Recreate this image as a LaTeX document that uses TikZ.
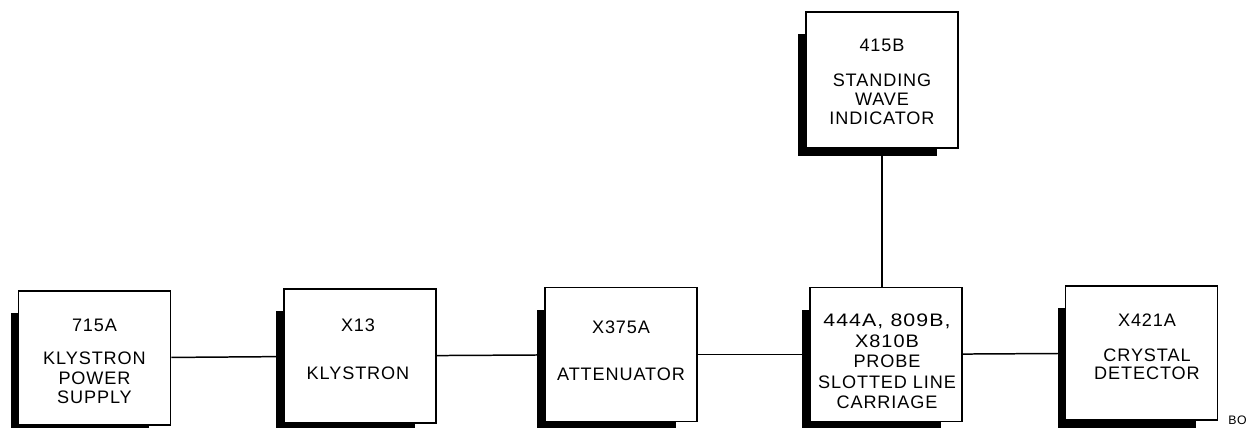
\documentclass[tikz,border=0pt]{standalone}
\usepackage{graphicx}
\usepackage{fontspec}
\setmainfont{Liberation Sans}[LetterSpace=5]
\usetikzlibrary{backgrounds,calc}
\newcommand\dropshade[1]{%
  \fill ($(#1.north west)+(-7,23)$) rectangle ($(#1.south east)+(-22,7)$);}
\begin{document}
\begin{tikzpicture}[x=0.02cm,y=-0.02cm,
  box/.style={draw,line width=1pt,fill=white,minimum width=3.04cm,minimum height=2.68cm,inner sep=0},
  lbl/.style={align=center,font=\fontsize{10.3}{11.3}\selectfont,inner sep=0,anchor=north},
  wire/.style={line width=0.85pt}]
\useasboundingbox (0,0) rectangle (1247,427);
\clip (0,0) rectangle (1247,427);

\node[box] (ps) at (94.5,358) {};
\node[box] (kl) at (360,356) {};
\node[box] (at) at (621,354.5) {};
\node[box] (sl) at (886,354.5) {};
\node[box] (cd) at (1141.5,353) {};
\node[box,minimum height=2.72cm] (sw) at (882,80) {};

\begin{scope}[on background layer]
  \fill[white] (0,0) rectangle (1247,427);
  \dropshade{ps}\dropshade{kl}\dropshade{at}\dropshade{sl}\dropshade{cd}\dropshade{sw}
\end{scope}

\node[lbl] (tps) at (94.5,318.5) {715A\\[7.4pt]KLYSTRON\\POWER\\SUPPLY};
\node[lbl] (tkl) at (358,318.5) {X13\\[15.9pt]KLYSTRON};
\node[lbl] (tat) at (621,320.5) {X375A\\[15.3pt]ATTENUATOR};
\node[lbl] (tsl) at (887,313.5) {\scalebox{1.18}[1]{444A,\,\,809B,}\\[0.4pt]\scalebox{1.1}[1]{X810B}\\[0.4pt]PROBE\\[0.4pt]SLOTTED LINE\\[0.4pt]CARRIAGE};
\node[lbl] (tcd) at (1147,313.5) {X421A\\[8.5pt]CRYSTAL\\[-1pt]DETECTOR};
\node[lbl] (tsw) at (882,38.5) {415B\\[8.5pt]STANDING\\[-0.5pt]WAVE\\[-0.5pt]INDICATOR};

\draw[wire] (ps) -- (kl);
\draw[wire] (kl) -- (at);
\draw[wire] (at) -- (sl);
\draw[wire] (sl) -- (cd);
\draw[wire] (sw.south) -- (sw.south |- sl.north);

\node[font=\fontsize{7}{8}\selectfont,anchor=north west,inner sep=0] (bo) at (1228,416) {BO};
\end{tikzpicture}
\end{document}
